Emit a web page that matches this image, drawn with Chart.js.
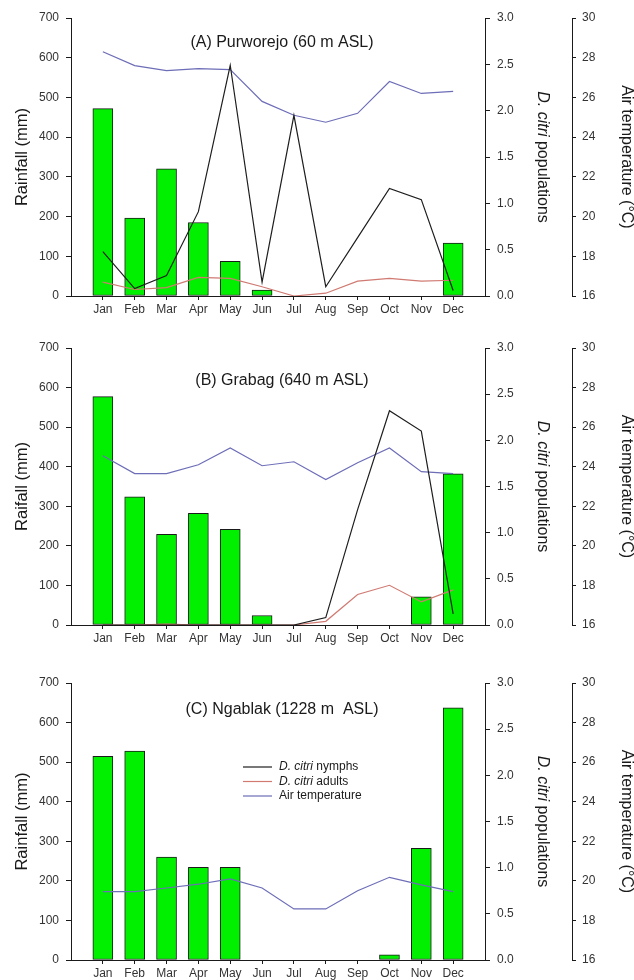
<!DOCTYPE html>
<html>
<head>
<meta charset="utf-8">
<title>Rainfall, D. citri populations and air temperature</title>
<script src="https://cdn.jsdelivr.net/npm/chart.js@4.4.1/dist/chart.umd.min.js"></script>
<style>
    html, body { margin: 0; padding: 0; background: #fff; }
    .page { position: relative; width: 634px; height: 980px; }
    .panel { position: absolute; left: 0; }
    canvas { display: block; }
</style>
</head>
<body>
<div class="page">
    <div class="panel" style="top:0"><canvas id="chartA" width="634" height="330"></canvas></div>
    <div class="panel" style="top:330px"><canvas id="chartB" width="634" height="330"></canvas></div>
    <div class="panel" style="top:665px"><canvas id="chartC" width="634" height="315"></canvas></div>
</div>
<script>
// Aylar (boş uçlar eksen kenar boşluğu için)
const months = ['Jan', 'Feb', 'Mar', 'Apr', 'May', 'Jun', 'Jul', 'Aug', 'Sep', 'Oct', 'Nov', 'Dec'];
const rainTicks = [0, 100, 200, 300, 400, 500, 600, 700];
const popTicks = [0, 0.5, 1.0, 1.5, 2.0, 2.5, 3.0];
const tempTicks = [16, 18, 20, 22, 24, 26, 28, 30];

// (A) Purworejo
const rainA = [472, 196, 320, 185, 87, 15, 0, 0, 0, 0, 0, 133];
const nymphA = [0.48, 0.08, 0.22, 0.91, 2.49, 0.15, 1.95, 0.10, 0.63, 1.16, 1.04, 0.06];
const adultA = [0.15, 0.07, 0.09, 0.20, 0.19, 0.10, 0.00, 0.03, 0.16, 0.19, 0.16, 0.17];
const tempA = [28.3, 27.6, 27.35, 27.45, 27.4, 25.8, 25.1, 24.75, 25.2, 26.8, 26.2, 26.3];

// (B) Grabag
const rainB = [577, 324, 229, 282, 242, 24, 0, 0, 0, 0, 71, 382];
const nymphB = [0, 0, 0, 0, 0, 0, 0, 0.08, 1.25, 2.32, 2.10, 0.12];
const adultB = [0, 0, 0.01, 0, 0, 0, 0, 0.04, 0.33, 0.43, 0.25, 0.38];
const tempB = [24.55, 23.65, 23.65, 24.1, 24.95, 24.05, 24.25, 23.35, 24.2, 24.95, 23.75, 23.65];

// (C) Ngablak (no populations recorded)
const rainC = [515, 528, 260, 234, 234, 0, 0, 0, 0, 13, 282, 637];
const nymphC = [null, null, null, null, null, null, null, null, null, null, null, null];
const adultC = [null, null, null, null, null, null, null, null, null, null, null, null];
const tempC = [19.46, 19.46, 19.64, 19.83, 20.1, 19.64, 18.58, 18.58, 19.5, 20.18, 19.8, 19.46];

const FONT = '"Liberation Sans", Arial, sans-serif';

document.addEventListener('DOMContentLoaded', function() {
    createPanel('chartA', '(A) Purworejo (60 m ASL)', 'Rainfall (mm)', rainA, nymphA, adultA, tempA, { titleDy: 25, xHeight: 34 });
    createPanel('chartB', '(B) Grabag (640 m ASL)', 'Raifall (mm)', rainB, nymphB, adultB, tempB, { titleDy: 33, xHeight: 35 });
    createPanel('chartC', '(C) Ngablak (1228 m  ASL)', 'Rainfall (mm)', rainC, nymphC, adultC, tempC, { titleDy: 27, xHeight: 20, legend: { x: 243, y: 102 } });
});

// Ayları boş uçlarla doldur
function pad(values) {
    return [null].concat(values, [null]);
}

// Karışık (italik + normal) metin çizimi
function drawMixed(ctx, x, y, parts, rotation, size) {
    ctx.save();
    ctx.translate(x, y);
    ctx.rotate(rotation);
    let total = 0;
    parts.forEach(p => {
        ctx.font = (p[1] ? 'italic ' : '') + size + 'px ' + FONT;
        total += ctx.measureText(p[0]).width;
    });
    let cx = -total / 2;
    ctx.textAlign = 'left';
    ctx.textBaseline = 'middle';
    parts.forEach(p => {
        ctx.font = (p[1] ? 'italic ' : '') + size + 'px ' + FONT;
        ctx.fillText(p[0], cx, 0);
        cx += ctx.measureText(p[0]).width;
    });
    ctx.restore();
}

// Başlıklar, eksen adları ve lejant
const panelText = {
    id: 'panelText',
    afterDraw(chart) {
        const opts = chart.options.plugins.panelText;
        const ctx = chart.ctx;
        const area = chart.chartArea;
        const mid = (area.top + area.bottom) / 2;

        ctx.save();
        ctx.fillStyle = '#1a1a1a';
        ctx.font = '16px ' + FONT;
        ctx.textAlign = 'center';
        ctx.textBaseline = 'middle';
        ctx.fillText(opts.title, (area.left + area.right) / 2 + 4, area.top + opts.titleDy);

        drawMixed(ctx, 22, mid, [[opts.rainLabel, false]], -Math.PI / 2, 16.5);
        drawMixed(ctx, 542, mid, [['D. citri', true], [' populations', false]], Math.PI / 2, 16);
        drawMixed(ctx, 626, mid, [['Air temperature (°C)', false]], Math.PI / 2, 16);

        if (opts.legend) {
            const items = [
                { ds: chart.data.datasets[0], parts: [['D. citri', true], [' nymphs', false]] },
                { ds: chart.data.datasets[1], parts: [['D. citri', true], [' adults', false]] },
                { ds: chart.data.datasets[2], parts: [['Air temperature', false]] }
            ];
            items.forEach((item, i) => {
                const y = opts.legend.y + i * 14.5;
                ctx.strokeStyle = item.ds.borderColor;
                ctx.lineWidth = 1.2;
                ctx.beginPath();
                ctx.moveTo(opts.legend.x, y);
                ctx.lineTo(opts.legend.x + 29, y);
                ctx.stroke();
                let tx = opts.legend.x + 36;
                ctx.textAlign = 'left';
                ctx.textBaseline = 'middle';
                item.parts.forEach(p => {
                    ctx.font = (p[1] ? 'italic ' : '') + '12px ' + FONT;
                    ctx.fillText(p[0], tx, y);
                    tx += ctx.measureText(p[0]).width;
                });
            });
        }
        ctx.restore();
    }
};

function createPanel(id, title, rainLabel, rain, nymph, adult, temp, cfg) {
    const ctx = document.getElementById(id).getContext('2d');
    const tickFont = { family: FONT, size: 12 };
    const lineBase = { type: 'line', borderWidth: 1.2, pointRadius: 0, tension: 0, fill: false };

    new Chart(ctx, {
        type: 'bar',
        data: {
            labels: [''].concat(months, ['']),
            datasets: [
                Object.assign({}, lineBase, { label: 'D. citri nymphs', data: pad(nymph), borderColor: '#1e1e1e', yAxisID: 'y1', order: 0 }),
                Object.assign({}, lineBase, { label: 'D. citri adults', data: pad(adult), borderColor: '#d07a72', yAxisID: 'y1', order: 1 }),
                Object.assign({}, lineBase, { label: 'Air temperature', data: pad(temp), borderColor: '#6d6db8', yAxisID: 'y2', order: 2 }),
                {
                    type: 'bar',
                    label: 'Rainfall',
                    data: pad(rain),
                    backgroundColor: '#00f000',
                    borderColor: '#1a1a1a',
                    borderWidth: 1,
                    borderSkipped: false,
                    barThickness: 20,
                    yAxisID: 'y',
                    order: 5
                }
            ]
        },
        options: {
            responsive: false,
            animation: false,
            layout: { padding: { top: 18, left: 0, right: 0, bottom: 0 } },
            plugins: {
                legend: { display: false },
                tooltip: { enabled: false },
                panelText: { title: title, rainLabel: rainLabel, titleDy: cfg.titleDy, legend: cfg.legend }
            },
            scales: {
                x: {
                    type: 'category',
                    offset: false,
                    afterFit: scale => { scale.height = cfg.xHeight; },
                    border: { display: true, color: '#1a1a1a', width: 1 },
                    grid: {
                        offset: false,
                        drawOnChartArea: false,
                        drawTicks: true,
                        tickLength: 4,
                        tickColor: c => (c.index === 0 || c.index === months.length + 1) ? 'rgba(0,0,0,0)' : '#1a1a1a'
                    },
                    ticks: { color: '#333', font: tickFont, padding: 2, maxRotation: 0, autoSkip: false }
                },
                y: {
                    position: 'left',
                    min: rainTicks[0],
                    max: rainTicks[rainTicks.length - 1],
                    afterFit: scale => { scale.width = 71; },
                    afterBuildTicks: scale => { scale.ticks = rainTicks.map(v => ({ value: v })); },
                    border: { display: true, color: '#1a1a1a', width: 1 },
                    grid: { drawOnChartArea: false, tickLength: 5, tickColor: '#1a1a1a' },
                    ticks: { color: '#333', font: tickFont, padding: 7 }
                },
                y1: {
                    position: 'right',
                    weight: 0,
                    min: popTicks[0],
                    max: popTicks[popTicks.length - 1],
                    afterFit: scale => { scale.width = 87; },
                    afterBuildTicks: scale => { scale.ticks = popTicks.map(v => ({ value: v })); },
                    border: { display: true, color: '#1a1a1a', width: 1 },
                    grid: { drawOnChartArea: false, tickLength: 5, tickColor: '#1a1a1a' },
                    ticks: { color: '#333', font: tickFont, padding: 7, callback: v => Number(v).toFixed(1) }
                },
                y2: {
                    position: 'right',
                    weight: 1,
                    min: tempTicks[0],
                    max: tempTicks[tempTicks.length - 1],
                    afterFit: scale => { scale.width = 62; },
                    afterBuildTicks: scale => { scale.ticks = tempTicks.map(v => ({ value: v })); },
                    border: { display: true, color: '#1a1a1a', width: 1 },
                    grid: { drawOnChartArea: false, tickLength: 4, tickColor: '#1a1a1a' },
                    ticks: { color: '#333', font: tickFont, padding: 6 }
                }
            }
        },
        plugins: [panelText]
    });
}
</script>
</body>
</html>
